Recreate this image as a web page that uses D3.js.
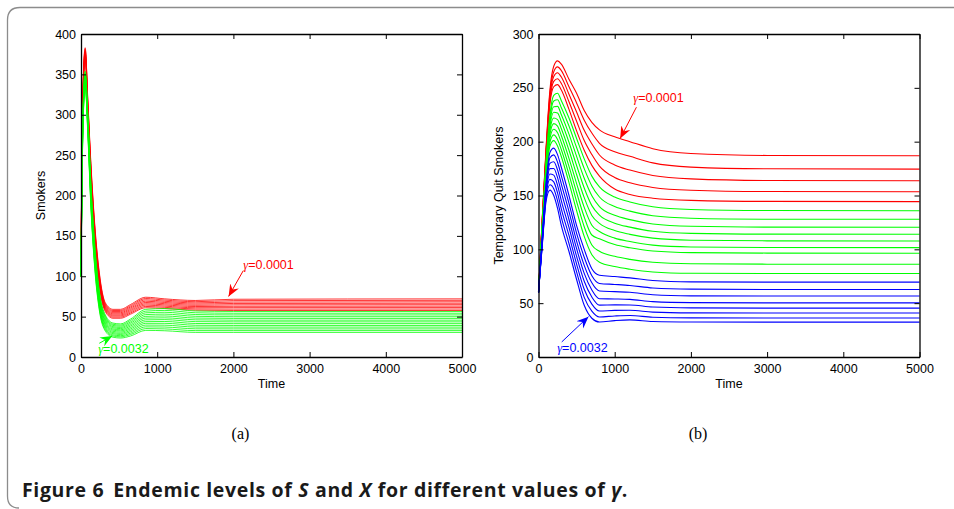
<!DOCTYPE html>
<html>
<head>
<meta charset="utf-8">
<script src="https://cdn.jsdelivr.net/npm/d3@7"></script>
<style>
body { margin: 0; background: #fff; }
svg { display: block; }
.tick text { font-family: "Liberation Sans", Arial, sans-serif; font-size: 12.5px; fill: #000; }
.tick line, .domain { stroke: #000; }
</style>
</head>
<body>
<svg id="fig" width="954" height="509"></svg>
<script>
// ---- panel (a): Smokers ----
var timeA = [0, 10, 25, 55, 90, 130, 180, 240, 320, 420, 520, 650, 850, 1100, 1500, 2000, 5000];
var redA = [
  [100, 230, 330, 383, 318, 240, 165, 105, 67, 59, 59, 65, 74, 72, 70, 71.5, 72],
  [100, 228.1, 328.1, 381.4, 315.8, 237.5, 162.5, 102.9, 65.6, 57.6, 57.6, 63.5, 72.4, 70.5, 68.5, 69.8, 70.2],
  [100, 226.3, 326.3, 379.8, 313.5, 235, 160, 100.8, 64.3, 56.3, 56.3, 62, 70.8, 69, 67, 68, 68.4],
  [100, 224.4, 324.4, 378.1, 311.3, 232.5, 157.5, 98.6, 62.9, 54.9, 54.9, 60.5, 69.1, 67.5, 65.5, 66.3, 66.6],
  [100, 222.5, 322.5, 376.5, 309, 230, 155, 96.5, 61.5, 53.5, 53.5, 59, 67.5, 66, 64, 64.6, 64.8],
  [100, 220.6, 320.6, 374.9, 306.8, 227.5, 152.5, 94.4, 60.1, 52.1, 52.1, 57.5, 65.9, 64.5, 62.5, 62.8, 63],
  [100, 218.8, 318.8, 373.3, 304.5, 225, 150, 92.3, 58.8, 50.8, 50.8, 56, 64.3, 63, 61, 61.1, 61.2],
  [100, 216.9, 316.9, 371.6, 302.3, 222.5, 147.5, 90.1, 57.4, 49.4, 49.4, 54.5, 62.6, 61.5, 59.5, 59.3, 59.4],
  [100, 215, 315, 370, 300, 220, 145, 88, 56, 48, 48, 53, 61, 60, 58, 57.6, 57.6]
];
var greenA = [
  [100, 200, 300, 354, 300, 215, 140, 82, 52, 42, 41, 47, 59, 60, 57, 56.4, 56.4],
  [100, 198.8, 298.3, 352.4, 297.9, 212.5, 137.5, 80, 50.3, 40.5, 39.5, 45.3, 56.8, 57.7, 54.8, 54.2, 54.2],
  [100, 197.5, 296.7, 350.8, 295.8, 210, 135, 78, 48.7, 39.1, 38.1, 43.5, 54.7, 55.4, 52.6, 52.1, 52.1],
  [100, 196.3, 295, 349.3, 293.8, 207.5, 132.5, 76, 47, 37.6, 36.6, 41.8, 52.5, 53.1, 50.4, 49.9, 49.9],
  [100, 195, 293.3, 347.7, 291.7, 205, 130, 74, 45.3, 36.2, 35.2, 40, 50.3, 50.8, 48.2, 47.8, 47.8],
  [100, 193.8, 291.7, 346.1, 289.6, 202.5, 127.5, 72, 43.7, 34.7, 33.7, 38.3, 48.2, 48.5, 46, 45.6, 45.6],
  [100, 192.5, 290, 344.5, 287.5, 200, 125, 70, 42, 33.3, 32.3, 36.5, 46, 46.3, 43.8, 43.5, 43.5],
  [100, 191.3, 288.3, 342.9, 285.4, 197.5, 122.5, 68, 40.3, 31.8, 30.8, 34.8, 43.8, 44, 41.5, 41.3, 41.3],
  [100, 190, 286.7, 341.3, 283.3, 195, 120, 66, 38.7, 30.3, 29.3, 33, 41.7, 41.7, 39.3, 39.1, 39.1],
  [100, 188.8, 285, 339.8, 281.3, 192.5, 117.5, 64, 37, 28.9, 27.9, 31.3, 39.5, 39.4, 37.1, 37, 37],
  [100, 187.5, 283.3, 338.2, 279.2, 190, 115, 62, 35.3, 27.4, 26.4, 29.5, 37.3, 37.1, 34.9, 34.8, 34.8],
  [100, 186.3, 281.7, 336.6, 277.1, 187.5, 112.5, 60, 33.7, 26, 25, 27.8, 35.2, 34.8, 32.7, 32.7, 32.7],
  [100, 185, 280, 335, 275, 185, 110, 58, 32, 24.5, 23.5, 26, 33, 32.5, 30.5, 30.5, 30.5]
];

// ---- panel (b): Temporary Quit Smokers ----
var timeB = [0, 25, 50, 100, 150, 200, 250, 300, 400, 500, 600, 700, 800, 1000, 1200, 1500, 2000, 3000, 5000];
var redB = [
  [60, 95, 130, 195, 248, 270, 275, 272, 258, 245, 229, 218, 211, 204.5, 200, 193.5, 189, 187.2, 186.9],
  [60, 94.5, 129, 193, 245, 265, 269.5, 266, 251, 236, 220, 208, 198.5, 190.6, 186.4, 180.3, 176.4, 174.8, 174.5],
  [60, 94, 128.5, 191.5, 241.5, 260.5, 264, 260, 244, 227.5, 210.5, 198, 187.6, 178.4, 173.6, 168.6, 165.4, 163.9, 163.7],
  [60, 93.5, 128, 190, 238, 256, 258.5, 254, 237, 219, 201, 188, 177.3, 166.7, 161.8, 157.5, 154.9, 153.7, 153.5],
  [60, 93, 127, 188, 235, 251, 253, 248, 230, 210, 192, 178, 168, 156, 151, 147.5, 145.5, 144.5, 144.3]
];
var greenB = [
  [60, 92, 124, 182, 225, 243, 245, 238, 222, 203, 184, 168, 158, 148.5, 144, 139.5, 137, 136, 135.9],
  [60, 91.5, 123, 180, 221.4, 237.8, 238.9, 231.5, 214.5, 194.6, 175, 158.9, 148.6, 139.7, 135.5, 131.2, 128.9, 128, 127.9],
  [60, 91, 122, 178, 217.8, 232.5, 232.8, 225, 207, 186.3, 166, 149.8, 139.7, 131.6, 127.6, 123.6, 121.4, 120.6, 120.5],
  [60, 90.5, 121, 176, 214.1, 227.3, 226.6, 218.5, 199.5, 177.9, 157, 140.6, 131.8, 124.3, 120.6, 116.8, 114.8, 114.1, 114],
  [60, 90, 120, 174, 210.5, 222, 220.5, 212, 192, 169.5, 148, 131.5, 124.1, 117.4, 113.9, 110.4, 108.5, 107.9, 107.8],
  [60, 89.5, 119, 172, 206.9, 216.8, 214.4, 205.5, 184.5, 161.1, 139, 122.4, 116.5, 110.4, 107.2, 103.9, 102.2, 101.7, 101.6],
  [60, 89, 118, 170, 203.3, 211.5, 208.3, 199, 177, 152.8, 130, 113.3, 109.8, 104.4, 101.4, 98.4, 96.9, 96.5, 96.4],
  [60, 88.5, 117, 168, 199.6, 206.3, 202.1, 192.5, 169.5, 144.4, 121, 104.1, 98.2, 93.5, 90.7, 88, 86.6, 86.2, 86.2],
  [60, 88, 116, 166, 196, 201, 196, 186, 162, 136, 112, 95, 88, 84, 81.5, 79, 77.8, 77.5, 77.5]
];
var blueB = [
  [60, 86, 112, 162, 190, 194, 188, 176, 150, 122, 100, 82, 76, 74.7, 73.5, 71, 69.8, 69.5, 69.5],
  [60, 85.4, 110.9, 159.6, 185, 187.7, 180.9, 168.3, 142.6, 114.9, 92.6, 75.4, 68.3, 67.4, 66.4, 64.1, 63, 62.7, 62.7],
  [60, 84.9, 109.7, 157.1, 180, 181.4, 173.7, 160.6, 135.1, 107.7, 85.1, 68.9, 61.3, 60.7, 60.1, 57.8, 56.8, 56.6, 56.6],
  [60, 84.3, 108.6, 154.7, 175, 175.1, 166.6, 152.9, 127.7, 100.6, 77.7, 62.3, 54.1, 53.9, 53.5, 51.4, 50.5, 50.3, 50.3],
  [60, 83.7, 107.4, 152.3, 170, 168.9, 159.4, 145.1, 120.3, 93.4, 70.3, 55.7, 48.2, 48.4, 48.3, 46.4, 45.6, 45.4, 45.4],
  [60, 83.1, 106.3, 149.9, 165, 162.6, 152.3, 137.4, 112.9, 86.3, 62.9, 49.1, 42.7, 43.3, 43.4, 41.7, 41, 40.8, 40.8],
  [60, 82.6, 105.1, 147.4, 160, 156.3, 145.1, 129.7, 105.4, 79.1, 55.4, 42.6, 37.2, 38.1, 38.6, 36.9, 36.3, 36.2, 36.2],
  [60, 82, 104, 145, 155, 150, 138, 122, 98, 72, 48, 36, 32.5, 33.8, 34.5, 33, 32.5, 32.4, 32.4]
];

var xTicks = [0, 1000, 2000, 3000, 4000, 5000];
var yTicksA = [0, 50, 100, 150, 200, 250, 300, 350, 400];
var yTicksB = [0, 50, 100, 150, 200, 250, 300];

// annotations, in data units: text anchor, arrow start, arrow tip
var notesA = [
  { text: "0.0001", color: "#ff0000", tx: 2130, ty: 109, x0: 2130, y0: 107, x1: 1937, y1: 75 },
  { text: "0.0032", color: "#00ff00", tx: 225, ty: 5.5, x0: 240, y0: 17, x1: 410, y1: 26 }
];
var notesB = [
  { text: "0.0001", color: "#ff0000", tx: 1243, ty: 237, x0: 1285, y0: 232, x1: 1072, y1: 203 },
  { text: "0.0032", color: "#0000ff", tx: 245, ty: 5, x0: 305, y0: 14, x1: 656, y1: 37.5 }
];

var svg = d3.select("#fig");
var font = "'Liberation Sans', Arial, sans-serif";

// arrow heads
var defs = svg.append("defs");
["#ff0000", "#00ff00", "#0000ff"].forEach(function(c) {
    defs.append("marker")
        .attr("id", "arr" + c.slice(1))
        .attr("viewBox", "-12 -6 13 12")
        .attr("refX", 0).attr("refY", 0)
        .attr("markerWidth", 13).attr("markerHeight", 12)
        .attr("markerUnits", "userSpaceOnUse")
        .attr("orient", "auto")
        .append("path")
        .attr("d", "M0,0 L-12,-5 L-8,0 L-12,5 Z")
        .attr("fill", c);
});

// figure frame
svg.append("path")
    .attr("d", "M954,7.5 H20 Q7.5,7.5 7.5,20 V496 Q7.5,508 19,508")
    .attr("fill", "none")
    .attr("stroke", "#8c8c8c")
    .attr("stroke-width", 1.3);

function drawPanel(p) {
    var x = d3.scaleLinear().domain([0, 5000]).range([p.left, p.right]);
    var y = d3.scaleLinear().domain([0, p.ymax]).range([p.bottom, p.top]);
    var g = svg.append("g");

    var line = d3.line()
        .curve(d3.curveMonotoneX)
        .x(function(d, i) { return x(p.times[i]); })
        .y(function(d) { return y(d); });

    p.groups.forEach(function(grp) {
        g.append("g").selectAll("path")
            .data(grp.values)
            .enter().append("path")
            .attr("d", line)
            .attr("fill", "none")
            .attr("stroke", grp.color)
            .attr("stroke-width", p.lw);
    });

    g.append("g")
        .attr("transform", "translate(0," + p.bottom + ")")
        .call(d3.axisBottom(x).tickValues(xTicks).tickFormat(d3.format("d"))
            .tickSizeInner(-5).tickSizeOuter(0).tickPadding(7));
    g.append("g")
        .attr("transform", "translate(0," + p.top + ")")
        .call(d3.axisTop(x).tickValues(xTicks).tickFormat("")
            .tickSizeInner(-5).tickSizeOuter(0));
    g.append("g")
        .attr("transform", "translate(" + p.left + ",0)")
        .call(d3.axisLeft(y).tickValues(p.yticks).tickFormat(d3.format("d"))
            .tickSizeInner(-5).tickSizeOuter(0).tickPadding(5));
    g.append("g")
        .attr("transform", "translate(" + p.right + ",0)")
        .call(d3.axisRight(y).tickValues(p.yticks).tickFormat("")
            .tickSizeInner(-5).tickSizeOuter(0));
    g.selectAll(".domain").attr("stroke-width", 1.3);

    // axis titles
    g.append("text")
        .attr("x", (p.left + p.right) / 2)
        .attr("y", p.bottom + 31)
        .attr("text-anchor", "middle")
        .style("font", "12.5px " + font)
        .text("Time");
    g.append("text")
        .attr("transform", "translate(" + p.ylabelX + "," + (p.top + p.bottom) / 2 + ") rotate(-90)")
        .attr("text-anchor", "middle")
        .style("font", "12.5px " + font)
        .text(p.ylabel);

    // annotations
    p.notes.forEach(function(n) {
        g.append("line")
            .attr("x1", x(n.x0)).attr("y1", y(n.y0))
            .attr("x2", x(n.x1)).attr("y2", y(n.y1))
            .attr("stroke", n.color)
            .attr("stroke-width", 1)
            .attr("marker-end", "url(#arr" + n.color.slice(1) + ")");
        var t = g.append("text")
            .attr("x", x(n.tx)).attr("y", y(n.ty))
            .attr("fill", n.color)
            .style("font", "12.5px " + font);
        t.append("tspan").style("font-family", "'Liberation Serif', serif").style("font-style", "italic").text("\u03b3");
        t.append("tspan").text("=" + n.text);
    });

    svg.append("text")
        .attr("x", (p.left + p.right) / 2 - 31)
        .attr("y", 439)
        .attr("text-anchor", "middle")
        .style("font", "16px 'Liberation Serif', serif")
        .text(p.tag);
}

drawPanel({
    left: 81, right: 462, top: 34, bottom: 357, ymax: 400,
    yticks: yTicksA, times: timeA, lw: 0.8,
    groups: [{ color: "#ff0000", values: redA }, { color: "#00ff00", values: greenA }],
    notes: notesA, ylabel: "Smokers", ylabelX: 45, tag: "(a)"
});
drawPanel({
    left: 538.5, right: 919.5, top: 34, bottom: 357, ymax: 300,
    yticks: yTicksB, times: timeB, lw: 1.1,
    groups: [{ color: "#ff0000", values: redB }, { color: "#00ff00", values: greenB }, { color: "#0000ff", values: blueB }],
    notes: notesB, ylabel: "Temporary Quit Smokers", ylabelX: 503, tag: "(b)"
});

// caption
var cap = svg.append("text")
    .attr("x", 22).attr("y", 497)
    .style("font", "bold 19.5px 'Open Sans', sans-serif")
    .style("letter-spacing", "0.65px")
    .attr("fill", "#1a1a1a");
cap.append("tspan").text("Figure 6");
cap.append("tspan").attr("dx", 9).text("Endemic levels of ");
cap.append("tspan").style("font-style", "italic").text("S");
cap.append("tspan").text(" and ");
cap.append("tspan").style("font-style", "italic").text("X");
cap.append("tspan").text(" for different values of ");
cap.append("tspan").style("font-style", "italic").text("\u03b3");
cap.append("tspan").text(".");
</script>
</body>
</html>
